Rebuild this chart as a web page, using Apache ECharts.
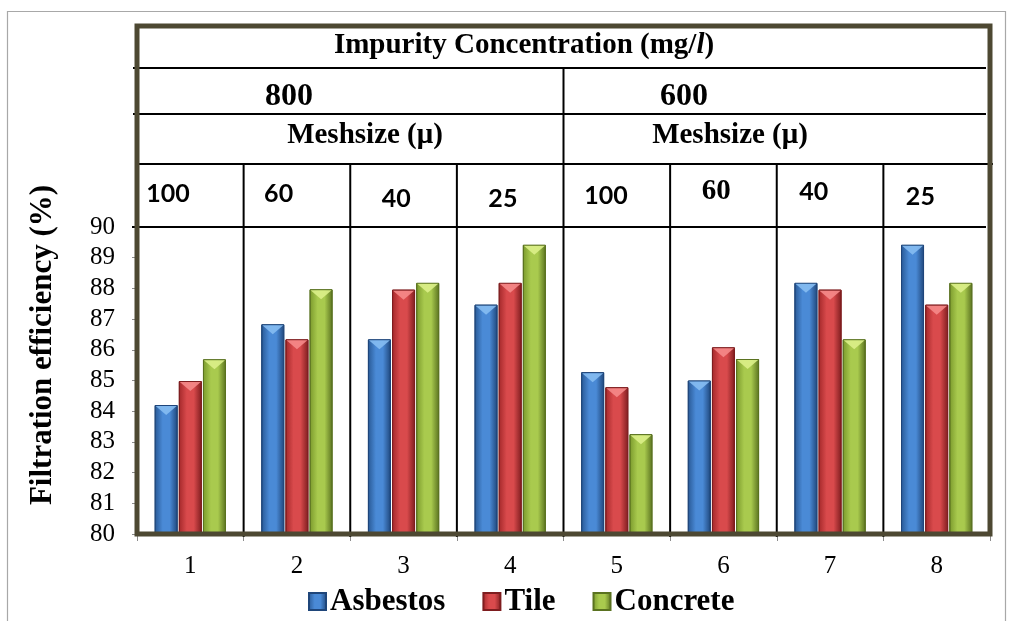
<!DOCTYPE html>
<html><head><meta charset="utf-8">
<script src="https://cdn.jsdelivr.net/npm/echarts@6/dist/echarts.min.js"></script>
<style>html,body{margin:0;padding:0;background:#fff}#c{width:1011px;height:621px}</style>
</head><body><div id="c"></div>
<script>
// ---- data ----
const categories = ['1','2','3','4','5','6','7','8'];
const seriesNames = ['Asbestos','Tile','Concrete'];
const asbestos = [84.2, 86.83, 86.34, 87.47, 85.27, 85.0, 88.18, 89.42];
const tile     = [84.98, 86.34, 87.96, 88.18, 84.78, 86.08, 87.96, 87.47];
const concrete = [85.69, 87.97, 88.18, 89.42, 83.25, 85.7, 86.34, 88.18];
const yTicks = [80, 90, 1]; // min, max, interval
const headerTitle = ['Impurity Concentration (mg/', 'l', ')'];
const concLabels = ['800', '600'];
const meshTitle = 'Meshsize (\u03bc)';
const meshLabels = ['100','60','40','25','100','60','40','25'];
const yName = 'Filtration efficiency (%)';

// ---- styling / layout (not data) ----
const serif = '"Liberation Serif","Times New Roman",serif';
const sans = 'Lato,"Liberation Sans",sans-serif';
const palette = [
  {edge:'#285894', mid:'#4a8ad6', dark:'#1f467a', top:'#86bdf2'},
  {edge:'#a3282a', mid:'#d94a4c', dark:'#7e1d1f', top:'#f58a8a'},
  {edge:'#7a992c', mid:'#a9ca4e', dark:'#5a7220', top:'#dcf08a'}
];
function grad(p){
  return {type:'linear',x:0,y:0,x2:1,y2:0,colorStops:[
    {offset:0,color:p.edge},{offset:0.35,color:p.mid},{offset:0.65,color:p.mid},{offset:1,color:p.dark}]};
}
const dataSets = [asbestos, tile, concrete];
const BW = 23, BG = '5%';

const chart = echarts.init(document.getElementById('c'), null, {renderer:'canvas'});
const series = [];
dataSets.forEach((d,i)=>{
  series.push({
    name: seriesNames[i], type:'bar', data:d, barWidth:BW, barGap:BG,
    itemStyle:{color:grad(palette[i]), borderColor:palette[i].dark, borderWidth:1},
    emphasis:{disabled:true}, z:2
  });
});
dataSets.forEach((d,i)=>{
  series.push({
    name: seriesNames[i]+' top', type:'pictorialBar', data:d, barWidth:BW, barGap:BG,
    symbol:'triangle', symbolRotate:180, symbolSize:[BW-2,9], symbolPosition:'end',
    symbolOffset:[0,1],
    itemStyle:{color:palette[i].top, opacity:0.9}, emphasis:{disabled:true}, z:3, silent:true
  });
});

chart.setOption({
  animation:false,
  grid:{left:137, right:21, top:227, bottom:87, containLabel:false},
  legend:{
    data:seriesNames, left:303, top:581, icon:'rect', itemWidth:17, itemHeight:17, itemGap:37,
    textStyle:{fontFamily:serif, fontWeight:'bold', fontSize:31, color:'#000', padding:[0,0,0,-1]},
    selectedMode:false
  },
  xAxis:{
    type:'category', data:categories,
    axisLine:{show:false},
    axisTick:{show:true, length:7, lineStyle:{color:'#8c8c8c', width:1}},
    axisLabel:{fontFamily:serif, fontSize:25, color:'#000', margin:20},
    splitLine:{show:false}
  },
  yAxis:{
    type:'value', min:yTicks[0], max:yTicks[1], interval:yTicks[2],
    axisLine:{show:false},
    axisTick:{show:true, length:5, lineStyle:{color:'#8c8c8c', width:1}},
    axisLabel:{fontFamily:serif, fontSize:25, color:'#000', margin:22},
    splitLine:{show:false}
  },
  series:series
});

// ---- header table / frame graphics computed from the axes ----
const yBottom = chart.convertToPixel({yAxisIndex:0}, yTicks[0]);
const yTop = chart.convertToPixel({yAxisIndex:0}, yTicks[1]);
const cx0 = chart.convertToPixel({xAxisIndex:0}, 0);
const cx1 = chart.convertToPixel({xAxisIndex:0}, 1);
const band = cx1 - cx0;
const L = cx0 - band/2, R = L + band*categories.length;
const frameTop = 26, row1 = 68, row2 = 114, row3 = 164;
const mid = L + band*4;

const g = [];
g.push({type:'rect', shape:{x:7.5,y:11.5,width:998,height:700}, style:{fill:'none',stroke:'#a8a8a8',lineWidth:1.2}, z:1, silent:true});
function hline(y,x1,x2,w){ g.push({type:'line', shape:{x1:x1,y1:y,x2:x2,y2:y}, style:{stroke:'#000',lineWidth:w||2}, z:50, silent:true}); }
function vline(x,y1,y2,w){ g.push({type:'line', shape:{x1:x,y1:y1,x2:x,y2:y2}, style:{stroke:'#000',lineWidth:w||2}, z:50, silent:true}); }
hline(row1, L-4, R-4);
hline(row2, L-4, R-4);
hline(row3, L+2, R+3);
hline(yTop, L-5, R-4);
vline(mid, row1, row3);
for (let i=1;i<categories.length;i++) vline(L+band*i, row3, yBottom+3);
g.push({type:'rect', shape:{x:L, y:frameTop, width:R-L, height:yBottom-frameTop},
  style:{fill:'none', stroke:'#4d4832', lineWidth:5}, z:100, silent:true});

function txt(x,y,t,font,size,weight,extra){
  const o = {type:'text', x:x, y:y, z:60, silent:true,
    style:Object.assign({text:t, fontFamily:font, fontSize:size, fontWeight:weight||'bold', fill:'#000', align:'center', verticalAlign:'middle'}, extra||{})};
  g.push(o); return o;
}
// title with italic l
g.push({type:'text', x:524, y:46, z:60, silent:true, style:{
  text:'{a|'+headerTitle[0]+'}{b|'+headerTitle[1]+'}{a|'+headerTitle[2]+'}',
  align:'center', verticalAlign:'middle',
  rich:{a:{fontFamily:serif,fontSize:29,fontWeight:'bold',fill:'#000'},
        b:{fontFamily:serif,fontSize:29,fontWeight:'bold',fontStyle:'italic',fill:'#000'}}
}});
txt(289, 97, concLabels[0], serif, 32);
txt(684, 97, concLabels[1], serif, 32);
txt(365, 136, meshTitle, serif, 29);
txt(730, 136, meshTitle, serif, 29);
const meshDx = [31, 35, 46, 46, 42.5, 46, 37, 37];
const meshY = [194, 194, 199, 199, 196, 192, 192, 197];
meshLabels.forEach((t,i)=>{
  const serifOne = (i===5);
  txt(L+band*i+meshDx[i], meshY[i], t, serifOne?serif:sans, serifOne?29:25);
});
g.push({type:'text', x:42.5, y:345, rotation:Math.PI/2, z:60, silent:true, style:{
  text:yName, fontFamily:serif, fontSize:31, fontWeight:'bold', fill:'#000', align:'center', verticalAlign:'middle'}});

chart.setOption({graphic:g});
</script></body></html>
